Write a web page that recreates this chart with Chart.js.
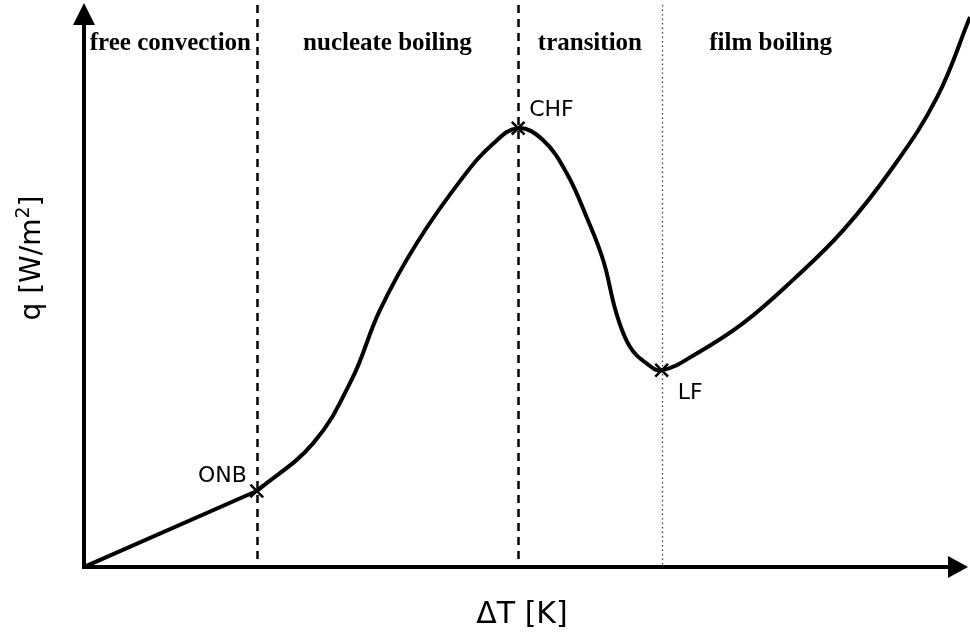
<!DOCTYPE html>
<html>
<head>
<meta charset="utf-8">
<script src="https://cdn.jsdelivr.net/npm/chart.js@4.4.1/dist/chart.umd.min.js"></script>
<style>
  html, body { margin: 0; padding: 0; background: #fff; }
  #chart { display: block; }
</style>
</head>
<body>
<canvas id="chart" width="970" height="637"></canvas>
<script>
// Boiling curve, arbitrary units (0..100 on both axes)
const freeConvX = [0, 19.5];
const freeConvQ = [0, 13.4];

const boilingX = [19.5, 25.85, 30.2, 33.4, 37.55, 42.8, 46.2, 49.0,
  51.8, 54.5, 56.7, 58.6, 60.1, 61.6, 63.5, 65.2,
  69.2, 74.4, 80.0, 85.7, 91.3, 96.3, 100];
const boilingQ = [13.4, 21.8, 33.0, 45.3, 57.1, 68.8, 74.7, 77.4,
  75.3, 69.4, 61.8, 54.1, 44.7, 38.9, 35.9, 34.7,
  37.7, 43.0, 50.6, 59.4, 70.5, 82.9, 97.0];

// ONB, CHF, LF
const pointNames = ['ONB', 'CHF', 'LF'];
const pointX = [19.5, 49.0, 65.2];
const pointQ = [13.4, 77.4, 34.7];

const regionNames = ['free convection', 'nucleate boiling', 'transition', 'film boiling'];

const xLabel = '\u0394T [K]';
const yLabel = 'q [W/m';
const yLabelSup = '2';

const toXY = (xs, ys) => xs.map((x, i) => ({ x: x, y: ys[i] }));

// Region dividers + axes + texts
const boilingDecor = {
  id: 'boilingDecor',
  beforeDatasetsDraw(chart) {
    const { ctx, chartArea, scales } = chart;
    ctx.save();
    pointX.forEach((v, i) => {
      const px = Math.round(scales.x.getPixelForValue(v)) + 0.5;
      ctx.beginPath();
      if (i < 2) {
        ctx.strokeStyle = '#000';
        ctx.lineWidth = 2.5;
        ctx.setLineDash([8, 6]);
      } else {
        ctx.strokeStyle = '#444';
        ctx.lineWidth = 1.3;
        ctx.setLineDash([1.5, 3]);
      }
      ctx.moveTo(px, chartArea.top + 5);
      ctx.lineTo(px, chartArea.bottom);
      ctx.stroke();
    });
    ctx.restore();
  },
  afterDatasetsDraw(chart) {
    const { ctx, chartArea, scales } = chart;
    const x0 = chartArea.left;
    const y0 = chartArea.bottom;
    ctx.save();
    ctx.setLineDash([]);
    ctx.strokeStyle = '#000';
    ctx.fillStyle = '#000';
    ctx.lineWidth = 4;

    // y axis
    ctx.beginPath();
    ctx.moveTo(x0, y0 + 2);
    ctx.lineTo(x0, chartArea.top + 22);
    ctx.stroke();
    ctx.beginPath();
    ctx.moveTo(x0, chartArea.top + 3);
    ctx.lineTo(x0 - 11, chartArea.top + 25);
    ctx.lineTo(x0 + 11, chartArea.top + 25);
    ctx.closePath();
    ctx.fill();

    // x axis
    const xEnd = chartArea.right - 2;
    ctx.beginPath();
    ctx.moveTo(x0 - 2, y0);
    ctx.lineTo(xEnd - 18, y0);
    ctx.stroke();
    ctx.beginPath();
    ctx.moveTo(xEnd, y0);
    ctx.lineTo(xEnd - 20, y0 - 11);
    ctx.lineTo(xEnd - 20, y0 + 11);
    ctx.closePath();
    ctx.fill();

    // region titles
    ctx.font = 'bold 25px "Liberation Serif", serif';
    ctx.textAlign = 'center';
    ctx.textBaseline = 'alphabetic';
    const bounds = [0].concat(pointX, [89.8]);
    regionNames.forEach((name, i) => {
      const mid = (bounds[i] + bounds[i + 1]) / 2;
      ctx.fillText(name, scales.x.getPixelForValue(mid), chartArea.top + 50);
    });

    // point labels
    ctx.font = '22px "DejaVu Sans", sans-serif';
    const offsets = [[-10, -9, 'right'], [11, -12, 'left'], [16, 29, 'left']];
    pointNames.forEach((name, i) => {
      const px = scales.x.getPixelForValue(pointX[i]);
      const py = scales.y.getPixelForValue(pointQ[i]);
      ctx.textAlign = offsets[i][2];
      ctx.fillText(name, px + offsets[i][0], py + offsets[i][1]);
    });

    // axis titles
    ctx.font = '30px "DejaVu Sans", sans-serif';
    ctx.textAlign = 'center';
    ctx.fillText(xLabel, (x0 + chartArea.right) / 2 - 5, y0 + 56);

    ctx.save();
    ctx.translate(40, 258);
    ctx.rotate(-Math.PI / 2);
    ctx.font = '28px "DejaVu Sans", sans-serif';
    const w1 = ctx.measureText(yLabel).width;
    ctx.font = '19px "DejaVu Sans", sans-serif';
    const w2 = ctx.measureText(yLabelSup).width;
    ctx.font = '28px "DejaVu Sans", sans-serif';
    const w3 = ctx.measureText(']').width;
    let sx = -(w1 + w2 + w3) / 2;
    ctx.textAlign = 'left';
    ctx.fillText(yLabel, sx, 0);
    sx += w1;
    ctx.font = '19px "DejaVu Sans", sans-serif';
    ctx.fillText(yLabelSup, sx, -11);
    sx += w2;
    ctx.font = '28px "DejaVu Sans", sans-serif';
    ctx.fillText(']', sx, 0);
    ctx.restore();

    ctx.restore();
  }
};

new Chart(document.getElementById('chart'), {
  type: 'scatter',
  data: {
    datasets: [
      {
        data: toXY(freeConvX, freeConvQ),
        showLine: true,
        borderColor: '#000',
        borderWidth: 4,
        pointRadius: 0,
        tension: 0
      },
      {
        data: toXY(boilingX, boilingQ),
        showLine: true,
        borderColor: '#000',
        borderWidth: 4,
        pointRadius: 0,
        tension: 0.4
      },
      {
        data: toXY(pointX, pointQ),
        showLine: false,
        pointStyle: 'crossRot',
        pointRadius: 9,
        borderColor: '#000',
        pointBorderWidth: 2.5,
        clip: false
      }
    ]
  },
  options: {
    responsive: false,
    animation: false,
    layout: { autoPadding: false, padding: { left: 84, right: 0, top: 0, bottom: 70 } },
    plugins: {
      legend: { display: false },
      tooltip: { enabled: false }
    },
    scales: {
      x: { type: 'linear', min: 0, max: 100, display: false },
      y: { type: 'linear', min: 0, max: 100, display: false }
    }
  },
  plugins: [boilingDecor]
});
</script>
</body>
</html>
